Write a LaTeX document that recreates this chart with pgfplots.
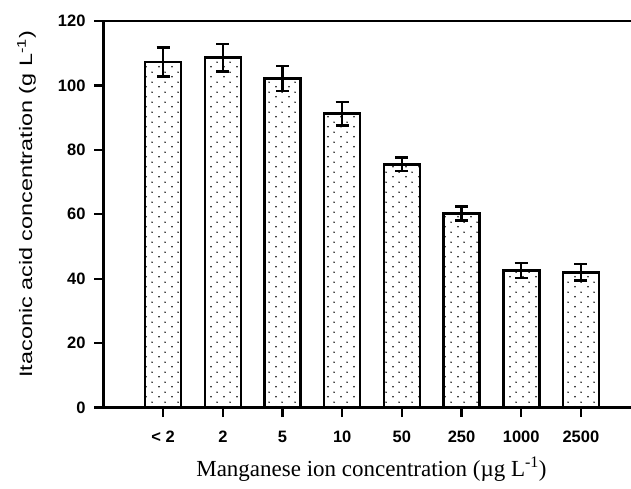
\documentclass[border=0pt]{standalone}
\usepackage{pgfplots}
\pgfplotsset{compat=1.18}
\usepackage{fontspec}
\setmainfont{Liberation Serif}
\setsansfont{Liberation Sans}
\usetikzlibrary{patterns}
\pgfdeclarepatternformonly{sparsedots}{\pgfpoint{0pt}{0pt}}{\pgfpoint{13pt}{10pt}}{\pgfpoint{13pt}{10pt}}{%
  \pgfpathcircle{\pgfpoint{3.25pt}{2.5pt}}{0.9pt}%
  \pgfpathcircle{\pgfpoint{9.75pt}{7.5pt}}{0.9pt}%
  \pgfusepath{fill}}

\pgfplotstableread{
x y err
0 107.3 4.5
1 108.6 4.3
2 102.2 3.9
3 91.2 3.7
4 75.5 2.1
5 60.2 2.2
6 42.5 2.3
7 42.0 2.6
}\mndata

\begin{document}
\begin{tikzpicture}[x=1pt,y=1pt]
\useasboundingbox (0,0) rectangle (631,488);
\begin{axis}[
  at={(103.5pt,80.5pt)}, anchor=south west,
  scale only axis, width=527.5pt, height=386.5pt,
  xmin=-1, xmax=7.84, ymin=0, ymax=120,
  axis y line*=left,
  axis x line*=box,
  x axis line style={-}, y axis line style={-},
  axis line style={line width=2.2pt, black},
  tick align=outside,
  major tick length=9.5pt,
  tick style={line width=2.2pt, black},
  xtick pos=bottom,
  ytick pos=left,
  xtick={0,...,7},
  xticklabels={{< 2},2,5,10,50,250,1000,2500},
  ytick={0,20,...,120},
  /pgf/number format/assume math mode=true,
  tick label style={font=\sffamily\bfseries\fontsize{16.5}{19}\selectfont},
  xticklabel style={anchor=north, yshift=-8.5pt, execute at begin node=\strut},
  yticklabel style={xshift=-5pt},
  every axis y label/.style={at={(axis description cs:-0.146,0.526)}, rotate=90, anchor=center,
     font=\sffamily\fontsize{18}{21}\selectfont},
  every axis x label/.style={at={(axis description cs:0.508,-0.179)}, anchor=base,
     font=\rmfamily\fontsize{23}{27}\selectfont},
  ylabel={\scalebox{1.3}[1]{Itaconic acid concentration (g L\textsuperscript{-1})}},
  xlabel={Manganese ion concentration (µg L\textsuperscript{-1})},
  ybar, bar width=36pt,
]
\addplot[draw=black, line width=2.6pt, pattern=sparsedots, pattern color=black,
  error bars/.cd, y dir=both, y explicit,
  error bar style={line width=2.4pt, black},
  error mark options={rotate=90, mark size=6.5pt, line width=2.4pt, black}]
  table[x=x, y=y, y error=err] {\mndata};
\end{axis}
\end{tikzpicture}
\end{document}
